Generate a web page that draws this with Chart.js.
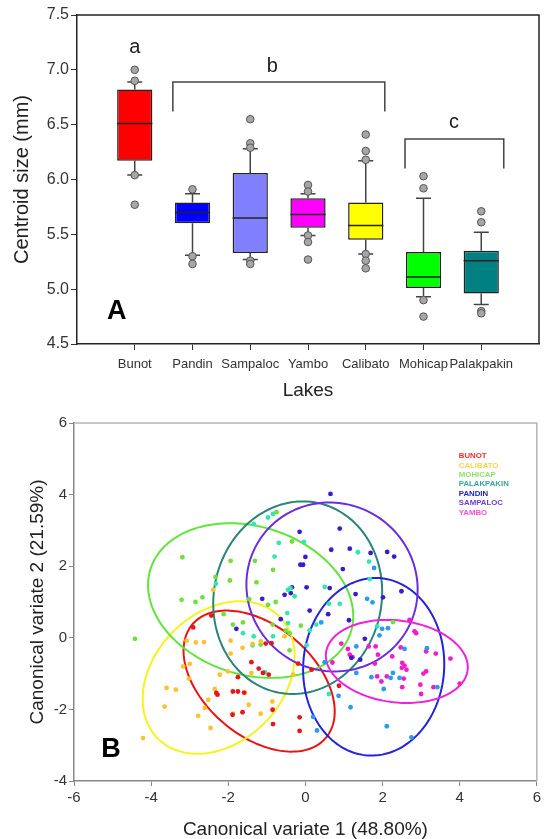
<!DOCTYPE html>
<html>
<head>
<meta charset="utf-8">
<script src="https://cdn.jsdelivr.net/npm/chart.js@4.4.0/dist/chart.umd.min.js"></script>
<style>
  html, body { margin: 0; padding: 0; background: #fff; }
  #wrap { position: relative; width: 544px; height: 839px; }
  canvas { position: absolute; left: 0; }
  #boxChart { top: 0; }
  #cvaChart { top: 400px; }
</style>
</head>
<body>
<div id="wrap">
  <canvas id="boxChart" width="544" height="400"></canvas>
  <canvas id="cvaChart" width="544" height="439"></canvas>
</div>
<script>
const FONT = 'Arial, "Liberation Sans", sans-serif';

// ---- panel A: centroid size box plots ----
const lakes = ['Bunot', 'Pandin', 'Sampaloc', 'Yambo', 'Calibato', 'Mohicap', 'Palakpakin'];
const boxColors = ['#ff0000', '#0000ff', '#8080ff', '#ff00ff', '#ffff00', '#00ff00', '#008080'];
const q1 = [6.17, 5.60, 5.33, 5.56, 5.45, 5.01, 4.96];
const median = [6.51, 5.70, 5.65, 5.68, 5.58, 5.11, 5.26];
const q3 = [6.82, 5.79, 6.06, 5.83, 5.79, 5.34, 5.35];
const whiskerLow = [6.04, 5.31, 5.27, 5.49, 5.32, 4.93, 4.86];
const whiskerHigh = [6.89, 5.87, 6.28, 5.87, 6.17, 5.83, 5.52];
const outliers = [
  [7.00, 6.90, 6.04, 5.77],
  [5.91, 5.30, 5.23],
  [6.55, 6.33, 6.29, 5.26, 5.23],
  [5.95, 5.89, 5.49, 5.43, 5.27],
  [6.41, 6.26, 6.18, 5.32, 5.26, 5.19],
  [6.03, 5.92, 4.90, 4.75],
  [5.71, 5.61, 4.80, 4.78]
];
// significance groups: text, x, y  /  brackets: x1, x2, yTop, yBottom
const groupLetters = [['a', 1.0, 7.20], ['b', 3.38, 7.03], ['c', 6.53, 6.52]];
const brackets = [[1.66, 5.33, 6.89, 6.62], [5.68, 7.39, 6.37, 6.10]];

const boxExtras = {
  id: 'boxExtras',
  beforeDatasetsDraw(chart) {
    const { ctx, scales: { x, y }, chartArea: a } = chart;
    ctx.save();
    ctx.strokeStyle = '#222';
    ctx.lineWidth = 1.5;
    ctx.beginPath();
    ctx.moveTo(a.left, a.top); ctx.lineTo(a.right, a.top); ctx.lineTo(a.right, a.bottom);
    ctx.stroke();
    // whiskers
    ctx.strokeStyle = '#444';
    lakes.forEach((n, i) => {
      const cx = x.getPixelForValue(i + 1);
      const hi = y.getPixelForValue(whiskerHigh[i]), lo = y.getPixelForValue(whiskerLow[i]);
      ctx.beginPath();
      ctx.moveTo(cx, y.getPixelForValue(q3[i])); ctx.lineTo(cx, hi);
      ctx.moveTo(cx - 7.5, hi); ctx.lineTo(cx + 7.5, hi);
      ctx.moveTo(cx, y.getPixelForValue(q1[i])); ctx.lineTo(cx, lo);
      ctx.moveTo(cx - 7.5, lo); ctx.lineTo(cx + 7.5, lo);
      ctx.stroke();
    });
    ctx.restore();
  },
  afterDatasetDraw(chart, args) {
    if (args.meta.type !== 'bar') return;
    const { ctx, scales: { y } } = chart;
    ctx.save();
    ctx.strokeStyle = '#222';
    ctx.lineWidth = 1.5;
    args.meta.data.forEach((bar, i) => {
      const py = y.getPixelForValue(median[i]);
      ctx.beginPath();
      ctx.moveTo(bar.x - bar.width / 2, py); ctx.lineTo(bar.x + bar.width / 2, py);
      ctx.stroke();
    });
    ctx.restore();
  },
  afterDraw(chart) {
    const { ctx, scales: { x, y } } = chart;
    ctx.save();
    ctx.strokeStyle = '#444';
    ctx.lineWidth = 1.5;
    brackets.forEach(([x1, x2, yt, yb]) => {
      ctx.beginPath();
      ctx.moveTo(x.getPixelForValue(x1), y.getPixelForValue(yb));
      ctx.lineTo(x.getPixelForValue(x1), y.getPixelForValue(yt));
      ctx.lineTo(x.getPixelForValue(x2), y.getPixelForValue(yt));
      ctx.lineTo(x.getPixelForValue(x2), y.getPixelForValue(yb));
      ctx.stroke();
    });
    ctx.fillStyle = '#222';
    ctx.textAlign = 'center';
    ctx.textBaseline = 'middle';
    ctx.font = '20px ' + FONT;
    groupLetters.forEach(([t, vx, vy]) => ctx.fillText(t, x.getPixelForValue(vx), y.getPixelForValue(vy)));
    ctx.fillStyle = '#000';
    ctx.font = 'bold 27px ' + FONT;
    ctx.fillText('A', x.getPixelForValue(0.69), y.getPixelForValue(4.80));
    ctx.restore();
  }
};

const outlierPts = [];
outliers.forEach((list, i) => list.forEach(v => outlierPts.push({ x: i + 1, y: v })));

new Chart(document.getElementById('boxChart'), {
  type: 'bar',
  data: {
    datasets: [
      {
        type: 'scatter',
        data: outlierPts,
        order: 0,
        pointRadius: 3.8,
        pointBackgroundColor: '#a6a6a6',
        pointBorderColor: '#555',
        pointBorderWidth: 1
      },
      {
        type: 'bar',
        data: lakes.map((n, i) => ({ x: i + 1, y: [q1[i], q3[i]] })),
        order: 1,
        backgroundColor: boxColors,
        borderColor: '#222',
        borderWidth: 1.5,
        borderSkipped: false,
        categoryPercentage: 1,
        barPercentage: 0.61
      }
    ]
  },
  options: {
    responsive: false,
    animation: false,
    layout: { padding: { top: 15, right: 5, left: 0, bottom: 0 } },
    plugins: { legend: { display: false }, tooltip: { enabled: false } },
    scales: {
      x: {
        type: 'linear', min: 0, max: 8, offset: false,
        afterBuildTicks: s => { s.ticks = lakes.map((n, i) => ({ value: i + 1 })); },
        afterFit: s => { s.height = 56; },
        ticks: { callback: v => lakes[v - 1], autoSkip: false, maxRotation: 0, font: { family: FONT, size: 13 }, color: '#333', padding: 7 },
        grid: { drawOnChartArea: false, offset: false, tickLength: 6, color: '#333' },
        border: { color: '#222', width: 1.5 },
        title: { display: true, text: 'Lakes', color: '#222', font: { family: FONT, size: 19, lineHeight: 1 }, padding: { top: 0, bottom: 0 } }
      },
      y: {
        min: 4.5, max: 7.5,
        afterFit: s => { s.width = 77; },
        ticks: { stepSize: 0.5, callback: v => v.toFixed(1), font: { family: FONT, size: 16 }, color: '#333', padding: 2 },
        grid: { drawOnChartArea: false, tickLength: 6, color: '#333' },
        border: { color: '#222', width: 1.5 },
        title: { display: true, text: 'Centroid size (mm)', color: '#222', font: { family: FONT, size: 20, lineHeight: 1 }, padding: { top: 12, bottom: 0 } }
      }
    }
  },
  plugins: [boxExtras]
});

// ---- panel B: canonical variates ----
const cvaLakes = ['BUNOT', 'CALIBATO', 'MOHICAP', 'PALAKPAKIN', 'PANDIN', 'SAMPALOC', 'YAMBO'];
const pointColors = ['#e8161a', '#ffc22e', '#72e03a', '#30e6b2', '#2a9cf0', '#3b1ccc', '#f01ec8'];
const legendColors = ['#ff2a2a', '#ffd24a', '#8ee26a', '#3aa4a4', '#2020c8', '#6b3fd0', '#ff50d0'];
const ellipseColors = ['#ee1111', '#f4f41c', '#5ee63a', '#2a8478', '#2222e0', '#6a2ee0', '#ee22dd'];

const bunotPts = [[-2.91,0.29],[-2.44,0.62],[-1.03,-0.16],[-0.88,-0.15],[-2.31,-1.54],[-2.28,-1.59],[-1.75,-1.10],[-1.88,-1.50],[-1.75,-1.50],[-1.59,-1.53],[-1.63,-2.08],[-1.89,-2.15],[-1.40,-0.68],[-1.21,-0.86],[-1.10,-0.98],[-0.95,-1.03],[-0.85,-2.01],[-0.84,-2.41],[-0.15,-2.22],[-0.15,-2.60],[0.87,-1.34],[-0.19,-0.72],[0.16,-0.89]];
const calibatoPts = [[-2.39,1.34],[-2.84,-0.13],[-2.63,-0.12],[-3.08,-0.08],[-1.94,-0.08],[-1.94,-0.44],[-1.37,-0.17],[-1.16,-0.10],[-0.54,0.04],[-3.60,-1.40],[-3.36,-1.45],[-3.65,-1.92],[-4.21,-2.80],[-3.17,-0.80],[-3.00,-0.73],[-3.02,-1.14],[-2.35,-1.43],[-2.52,-1.73],[-2.61,-1.96],[-2.78,-2.18],[-2.46,-2.52],[-2.22,-1.03],[-2.01,-0.94],[-1.63,-0.28],[-1.88,-2.12],[-1.57,-1.54],[-1.47,-1.87],[-1.16,-2.12],[-1.40,-0.98],[-0.86,-1.78],[-0.32,-1.03]];
const mohicapPts = [[-0.75,3.51],[-0.35,2.69],[-3.19,2.25],[-1.94,2.15],[-1.31,2.15],[-0.84,1.90],[-2.33,1.70],[-1.96,1.60],[-1.27,1.55],[-3.21,1.06],[-2.85,1.00],[-2.67,1.13],[-1.46,1.08],[-0.97,0.92],[-0.77,1.00],[-2.12,0.66],[-1.88,0.37],[-1.62,0.43],[-0.85,0.37],[-0.51,0.20],[-0.41,0.13],[-0.12,0.34],[-1.16,-0.19],[-4.42,-0.03],[2.27,0.44],[-0.41,-0.35]];
const palakpakinPts = [[-0.84,3.46],[-0.97,3.36],[-1.34,3.18],[-0.69,2.65],[-0.04,2.68],[1.36,2.39],[-0.80,2.27],[1.65,2.13],[-2.32,1.51],[-0.45,1.34],[-0.39,1.39],[-0.28,1.16],[0.50,1.42],[1.67,1.64],[-0.47,0.69],[0.61,0.95],[0.89,0.95],[0.28,0.37],[-0.45,0.41],[-1.62,0.13],[-1.34,0.04],[-1.37,-0.21],[-0.84,0.04],[0.11,0.21],[0.03,-0.21],[1.86,0.32],[-1.05,-0.96],[0.61,-1.57]];
const pandinPts = [[1.78,1.95],[1.60,1.09],[1.74,0.99],[0.41,0.43],[1.99,0.25],[2.14,0.27],[1.92,0.07],[1.32,-0.24],[3.15,-0.29],[3.42,-1.38],[2.57,-0.31],[2.27,-0.98],[2.44,-1.12],[1.71,-1.10],[2.21,-1.12],[2.03,-1.43],[1.32,-0.98],[0.50,-0.68],[0.86,-1.62],[1.17,-1.94],[0.20,-2.21],[0.30,-2.59],[2.11,-2.47],[2.75,-2.78]];
const sampalocPts = [[0.65,4.02],[-0.15,2.96],[0.89,3.05],[0.67,2.46],[1.15,2.49],[1.69,2.37],[2.12,2.40],[2.30,2.27],[0.00,2.26],[-0.13,2.04],[-0.06,2.04],[0.97,1.92],[-0.54,1.20],[-0.38,1.25],[-0.35,1.41],[0.03,1.41],[0.63,1.39],[1.30,1.22],[2.01,1.13],[2.49,1.30],[-1.12,1.09],[0.11,0.76],[0.59,0.66],[1.13,0.49],[-1.79,0.25],[-0.64,0.52],[1.54,-0.03],[1.19,-0.56],[1.42,-0.61]];
const yamboPts = [[2.70,0.50],[3.38,-0.44],[3.76,-0.58],[3.13,-0.38],[4.00,-1.28],[3.32,-1.38],[3.13,-0.94],[3.06,-1.00],[2.98,-1.31],[3.00,-1.57],[0.93,-0.16],[1.10,-0.31],[1.15,-0.47],[1.22,-0.54],[1.64,-0.24],[1.82,-0.24],[1.88,-0.47],[1.80,-0.72],[2.25,-0.52],[2.47,-0.27],[2.51,-0.70],[2.57,-0.78],[2.62,-0.89],[2.50,-0.84],[2.55,-1.14],[2.11,-1.08],[1.86,-1.08],[1.97,-1.22],[2.51,-1.38],[0.70,-0.69],[2.83,0.18],[2.87,0.13]];
const groupPts = [bunotPts, calibatoPts, mohicapPts, palakpakinPts, pandinPts, sampalocPts, yamboPts];

// confidence ellipses: centre, half-extent in x and y, correlation
const ellCx = [-1.20, -2.25, -1.42, -0.20, 1.77, 0.69, 2.37];
const ellCy = [-1.21, -1.11, 1.04, 1.12, -0.81, 1.42, -0.66];
const ellHx = [1.96, 1.97, 2.66, 2.19, 1.83, 2.22, 1.84];
const ellHy = [1.97, 2.13, 2.16, 2.69, 2.48, 2.36, 1.16];
const ellR = [-0.43, 0.28, -0.20, 0.06, 0.03, -0.03, -0.14];

const cvaExtras = {
  id: 'cvaExtras',
  beforeDatasetsDraw(chart) {
    const { ctx, scales: { x, y }, chartArea: a } = chart;
    ctx.save();
    ctx.strokeStyle = '#b4b4b4';
    ctx.lineWidth = 1.5;
    ctx.beginPath();
    ctx.moveTo(a.left, a.top); ctx.lineTo(a.right, a.top); ctx.lineTo(a.right, a.bottom);
    ctx.stroke();
    ctx.lineWidth = 2;
    cvaLakes.forEach((n, i) => {
      const s = Math.sqrt(1 - ellR[i] * ellR[i]);
      ctx.strokeStyle = ellipseColors[i];
      ctx.beginPath();
      for (let k = 0; k <= 160; k++) {
        const t = k / 160 * Math.PI * 2;
        const px = x.getPixelForValue(ellCx[i] + ellHx[i] * Math.cos(t));
        const py = y.getPixelForValue(ellCy[i] + ellHy[i] * (ellR[i] * Math.cos(t) + s * Math.sin(t)));
        if (k === 0) ctx.moveTo(px, py); else ctx.lineTo(px, py);
      }
      ctx.closePath();
      ctx.stroke();
    });
    ctx.restore();
  },
  afterDraw(chart) {
    const { ctx, scales: { x, y }, chartArea: a } = chart;
    ctx.save();
    ctx.textBaseline = 'middle';
    ctx.textAlign = 'left';
    ctx.font = 'bold 7.8px ' + FONT;
    cvaLakes.forEach((n, i) => {
      ctx.fillStyle = legendColors[i];
      ctx.fillText(n, a.right - 78, a.top + 33 + i * 9.45);
    });
    ctx.fillStyle = '#000';
    ctx.textAlign = 'center';
    ctx.font = 'bold 27px ' + FONT;
    ctx.fillText('B', x.getPixelForValue(-5.04), y.getPixelForValue(-3.13));
    ctx.restore();
  }
};

new Chart(document.getElementById('cvaChart'), {
  type: 'scatter',
  data: {
    datasets: groupPts.map((pts, i) => ({
      label: cvaLakes[i],
      data: pts.map(p => ({ x: p[0], y: p[1] })),
      pointRadius: 2.4,
      pointBorderWidth: 0,
      pointBackgroundColor: pointColors[i]
    }))
  },
  options: {
    responsive: false,
    animation: false,
    layout: { padding: { top: 23, right: 7, left: 0, bottom: 0 } },
    plugins: { legend: { display: false }, tooltip: { enabled: false } },
    scales: {
      x: {
        type: 'linear', min: -6, max: 6,
        afterFit: s => { s.height = 58; },
        ticks: { stepSize: 2, font: { family: FONT, size: 15 }, color: '#333', padding: 3 },
        grid: { drawOnChartArea: false, tickLength: 5, color: '#888' },
        border: { color: '#888', width: 1.5 },
        title: { display: true, text: 'Canonical variate 1 (48.80%)', color: '#222', font: { family: FONT, size: 19, lineHeight: 1 }, padding: { top: 0, bottom: 0 } }
      },
      y: {
        min: -4, max: 6,
        afterFit: s => { s.width = 74; },
        ticks: { stepSize: 2, font: { family: FONT, size: 15 }, color: '#333', padding: 2 },
        grid: { drawOnChartArea: false, tickLength: 5, color: '#888' },
        border: { color: '#888', width: 1.5 },
        title: { display: true, text: 'Canonical variate 2 (21.59%)', color: '#222', font: { family: FONT, size: 19, lineHeight: 1 }, padding: { top: 28, bottom: 0 } }
      }
    }
  },
  plugins: [cvaExtras]
});
</script>
</body>
</html>
